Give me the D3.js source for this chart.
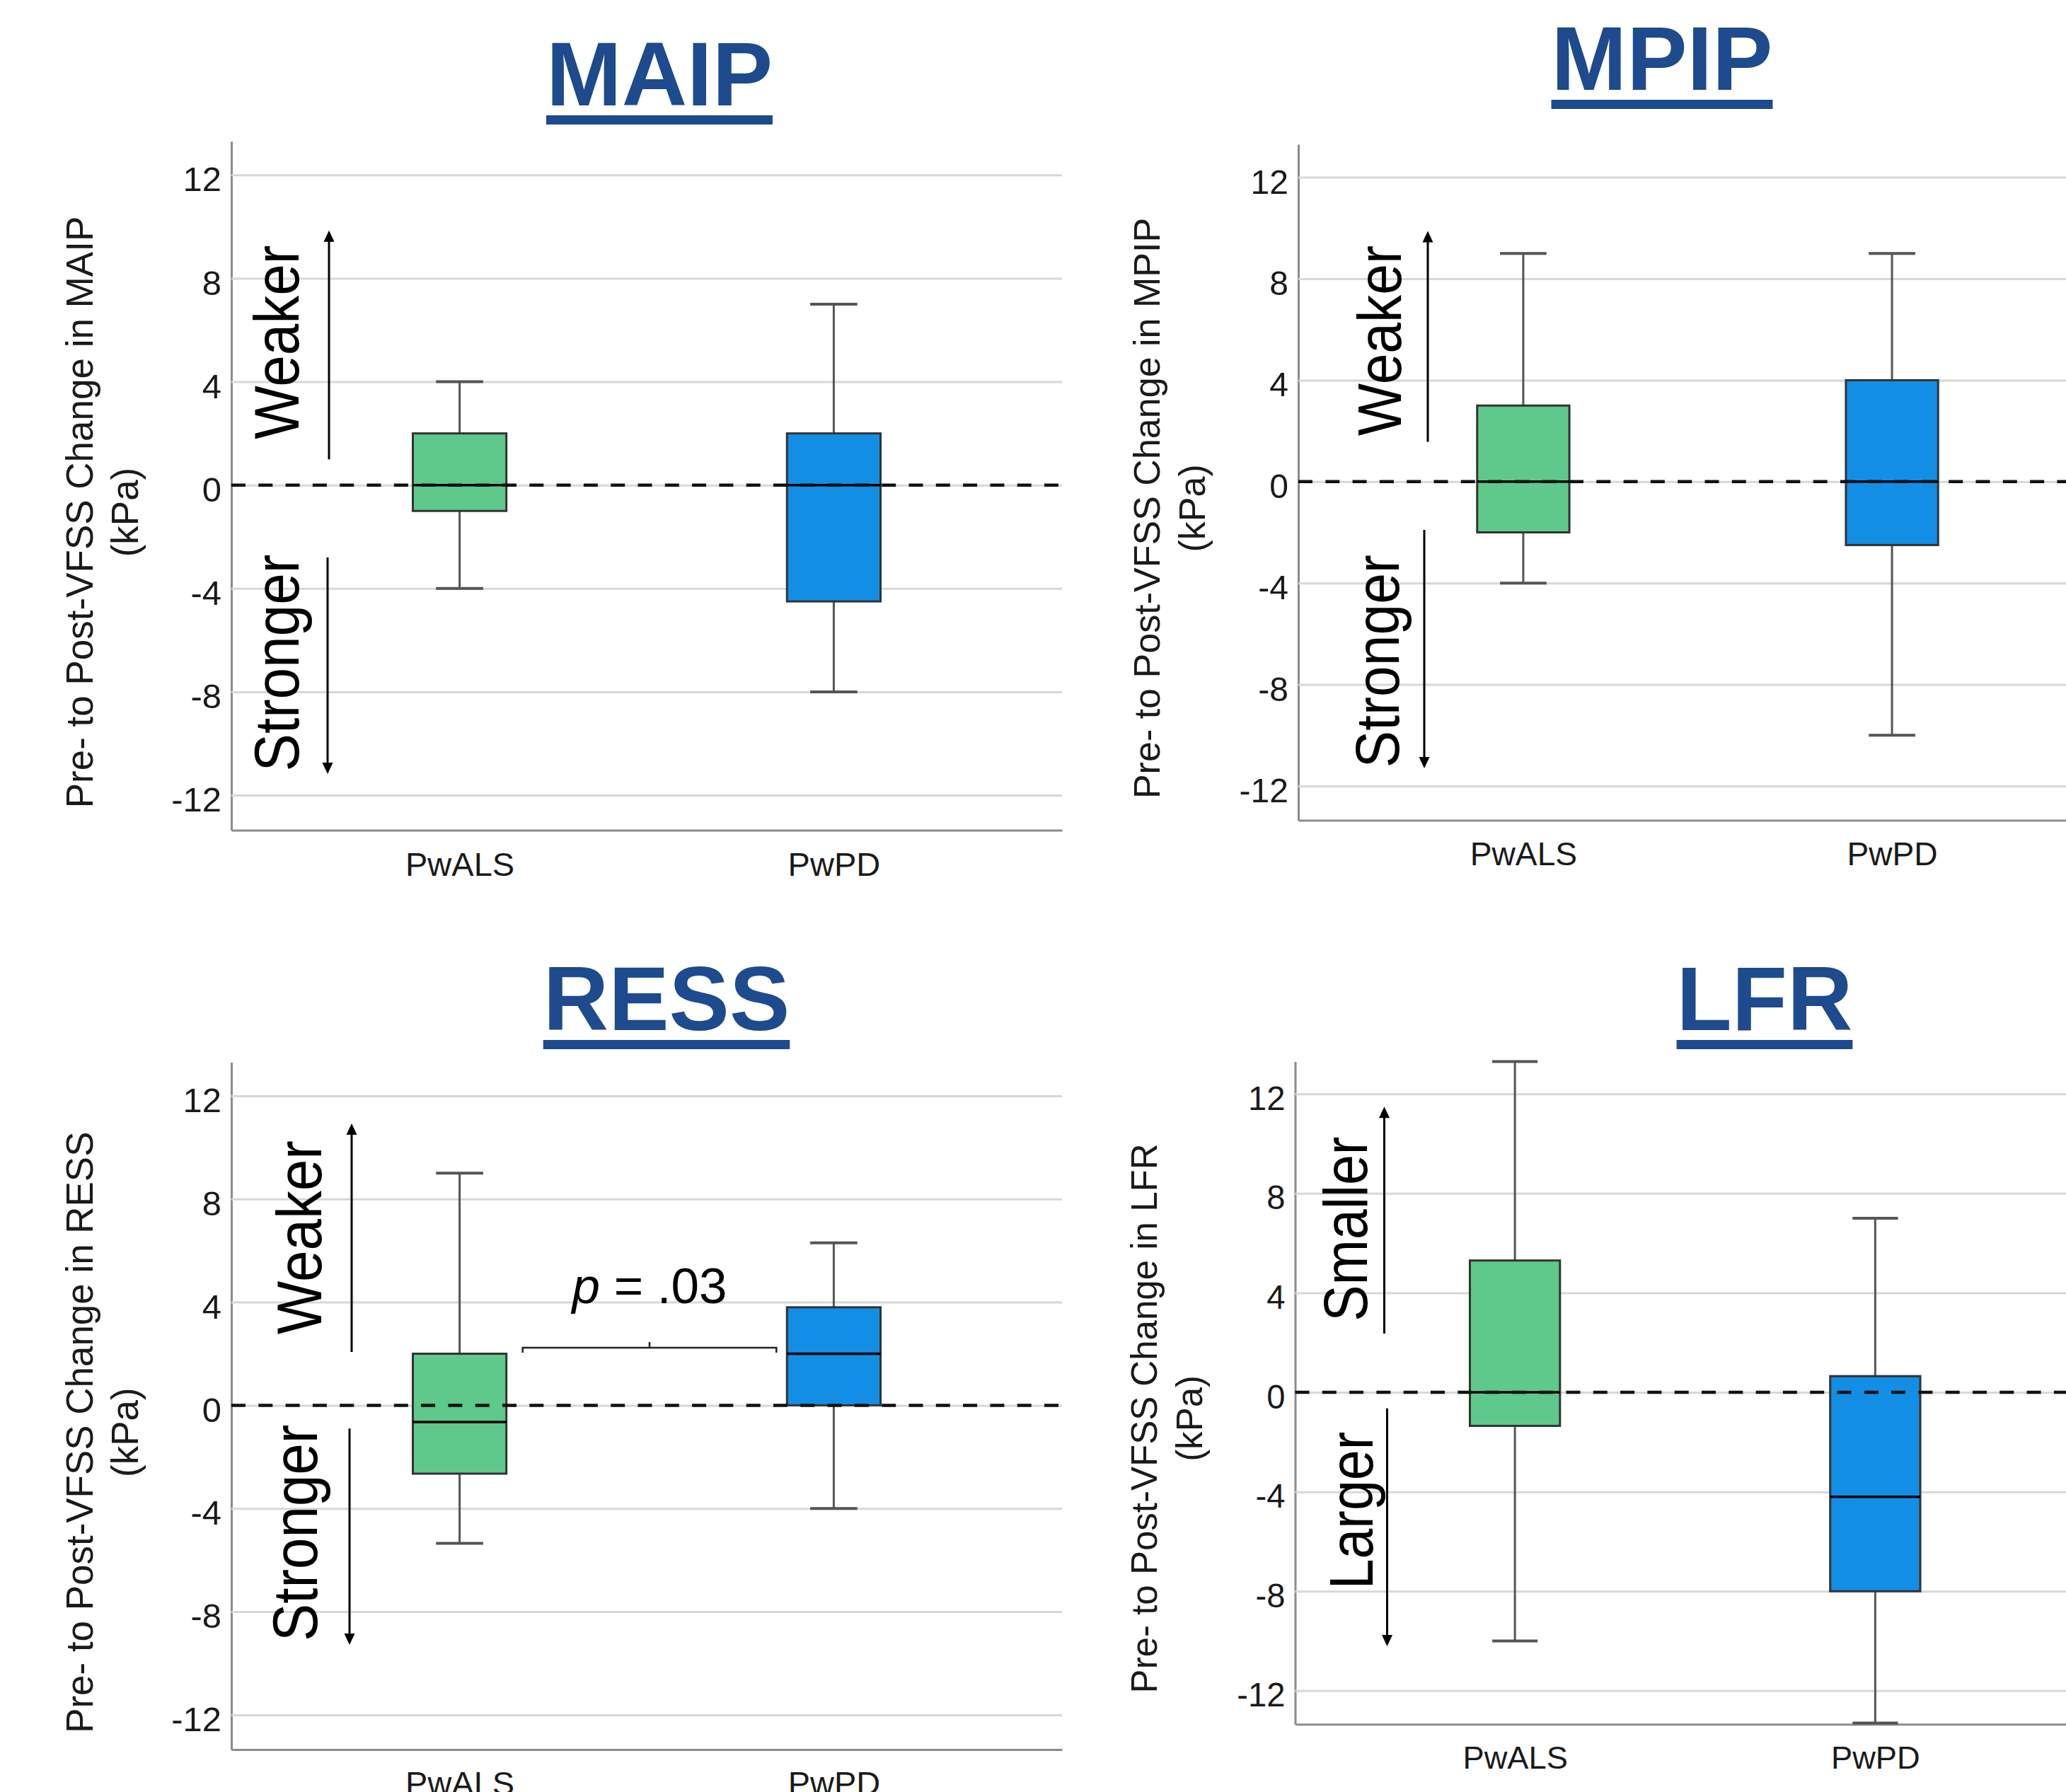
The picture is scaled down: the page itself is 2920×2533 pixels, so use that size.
<!DOCTYPE html>
<html>
<head>
<meta charset="utf-8">
<script src="https://cdn.jsdelivr.net/npm/d3@7"></script>
<style>
  body { margin: 0; background: #fff; }
  svg { display: block; }
</style>
</head>
<body>
<svg id="chart" width="2920" height="2533"></svg>
<script>
const groups = ["PwALS", "PwPD"];
const measures = ["MAIP", "MPIP", "RESS", "LFR"];
const yTicks = [12, 8, 4, 0, -4, -8, -12];

// five-number summaries: [lower whisker, Q1, median, Q3, upper whisker] (kPa)
const maipALS = [-4, -1, 0, 2, 4];
const maipPD = [-8, -4.5, 0, 2, 7];
const mpipALS = [-4, -2, 0, 3, 9];
const mpipPD = [-10, -2.5, 0, 4, 9];
const ressALS = [-5.35, -2.65, -0.65, 2, 9];
const ressPD = [-4, 0, 2, 3.8, 6.3];
const lfrALS = [-10, -1.35, 0, 5.3, 13.3];
const lfrPD = [-13.3, -8, -4.2, 0.65, 7];
const boxStats = [[maipALS, maipPD], [mpipALS, mpipPD], [ressALS, ressPD], [lfrALS, lfrPD]];

const upLabels = ["Weaker", "Weaker", "Weaker", "Smaller"];
const downLabels = ["Stronger", "Stronger", "Stronger", "Larger"];
const pText = ["p", " = .03"];

const groupColors = ["#5ec98a", "#128fe5"];
const titleColor = "#1e4a8e";
const yDomain = [-13.35, 13.3];

// panel geometry in pixels; annotation spots given in data units along y
const layout = [
  { x0: 327, x1: 1501, y0: 1173.4, y1: 199.8, k: 1.0, titleX: 932, titleY: 149,
    arrowUp: [1.0, 9.85], arrowDown: [-2.8, -11.18], arrowDx: [138, 136],
    labelAt: [5.53, -6.88], labelDx: [95, 95] },
  { x0: 1835, x1: 2992, y0: 1159.4, y1: 204, k: 0.982, titleX: 2349, titleY: 127,
    arrowUp: [1.57, 9.88], arrowDown: [-1.9, -11.3], arrowDx: [183, 178],
    labelAt: [5.56, -7.08], labelDx: [145, 142] },
  { x0: 327, x1: 1501, y0: 2473.1, y1: 1501.5, k: 0.999, titleX: 942, titleY: 1456,
    arrowUp: [2.07, 10.93], arrowDown: [-0.9, -9.29], arrowDx: [170, 167],
    labelAt: [6.51, -4.95], labelDx: [127, 121] },
  { x0: 1830.5, x1: 2961, y0: 2437.3, y1: 1500.5, k: 0.963, titleX: 2494, titleY: 1456,
    arrowUp: [2.36, 11.49], arrowDown: [-0.65, -10.21], arrowDx: [126, 130],
    labelAt: [6.57, -4.75], labelDx: [101, 109] }
];

const svg = d3.select("#chart");
svg.append("rect").attr("width", 2920).attr("height", 2533).attr("fill", "#fff");

const font = "'Liberation Sans', Arial, Helvetica, sans-serif";

function arrow(g, x, yFrom, yTo) {
  const dir = yTo < yFrom ? -1 : 1;
  g.append("line")
    .attr("x1", x).attr("x2", x)
    .attr("y1", yFrom).attr("y2", yTo - dir * 12)
    .attr("stroke", "#000").attr("stroke-width", 3);
  g.append("path")
    .attr("d", `M${x},${yTo} L${x - 7.5},${yTo - dir * 16} L${x + 7.5},${yTo - dir * 16} Z`)
    .attr("fill", "#000");
}

function drawPanel(i) {
  const L = layout[i];
  const stats = boxStats[i];
  const g = svg.append("g").attr("class", "panel");

  const y = d3.scaleLinear().domain(yDomain).range([L.y0, L.y1]);
  const x = d3.scalePoint().domain(groups).range([L.x0, L.x1]).padding(0.61);
  const step = x.step();
  const boxW = step * 0.25;
  const capW = step * 0.126;

  // y axis with gridlines
  const yAxis = d3.axisLeft(y)
    .tickValues(yTicks)
    .tickSize(-(L.x1 - L.x0))
    .tickSizeOuter(0)
    .tickPadding(14)
    .tickFormat(d => String(d));

  const ya = g.append("g")
    .attr("transform", `translate(${L.x0},0)`)
    .call(yAxis);
  ya.select(".domain").attr("stroke", "#8c8c8c").attr("stroke-width", 3);
  ya.selectAll(".tick line").attr("stroke", "#d7d7d7").attr("stroke-width", 3);
  ya.selectAll(".tick text")
    .attr("font-family", font)
    .attr("font-size", 49 * L.k)
    .attr("fill", "#1a1a1a")
    .attr("y", 7);

  // x axis
  const xAxis = d3.axisBottom(x).tickSize(0).tickSizeOuter(0).tickPadding(31);
  const xa = g.append("g")
    .attr("transform", `translate(0,${L.y0})`)
    .call(xAxis);
  xa.select(".domain").attr("stroke", "#8c8c8c").attr("stroke-width", 3);
  xa.selectAll(".tick text")
    .attr("font-family", font)
    .attr("font-size", 47 * L.k)
    .attr("fill", "#1a1a1a");

  // boxes
  const boxes = g.selectAll(".box")
    .data(groups.map((name, j) => ({ name, s: stats[j], color: groupColors[j] })))
    .join("g")
    .attr("class", "box");

  boxes.append("line")
    .attr("x1", d => x(d.name)).attr("x2", d => x(d.name))
    .attr("y1", d => y(d.s[0])).attr("y2", d => y(d.s[1]))
    .attr("stroke", "#555").attr("stroke-width", 3);
  boxes.append("line")
    .attr("x1", d => x(d.name)).attr("x2", d => x(d.name))
    .attr("y1", d => y(d.s[3])).attr("y2", d => y(d.s[4]))
    .attr("stroke", "#555").attr("stroke-width", 3);
  boxes.selectAll(".cap")
    .data(d => [d.s[0], d.s[4]].map(v => ({ name: d.name, v })))
    .join("line")
    .attr("class", "cap")
    .attr("x1", d => x(d.name) - capW / 2).attr("x2", d => x(d.name) + capW / 2)
    .attr("y1", d => y(d.v)).attr("y2", d => y(d.v))
    .attr("stroke", "#555").attr("stroke-width", 4);
  boxes.append("rect")
    .attr("x", d => x(d.name) - boxW / 2)
    .attr("width", boxW)
    .attr("y", d => y(d.s[3]))
    .attr("height", d => y(d.s[1]) - y(d.s[3]))
    .attr("fill", d => d.color)
    .attr("stroke", "#333")
    .attr("stroke-width", 3);
  boxes.append("line")
    .attr("x1", d => x(d.name) - boxW / 2).attr("x2", d => x(d.name) + boxW / 2)
    .attr("y1", d => y(d.s[2])).attr("y2", d => y(d.s[2]))
    .attr("stroke", "#000").attr("stroke-width", 3.5);

  // dashed reference at zero
  g.append("line")
    .attr("x1", L.x0).attr("x2", L.x1)
    .attr("y1", y(0)).attr("y2", y(0))
    .attr("stroke", "#111")
    .attr("stroke-width", 4.5)
    .attr("stroke-dasharray", "20 18.3");

  // y axis title
  const yt = g.append("g")
    .attr("font-family", font)
    .attr("font-size", 53 * L.k)
    .attr("fill", "#1a1a1a")
    .attr("text-anchor", "middle");
  yt.append("text")
    .attr("transform", `translate(${L.x0 - 196},${y(-1.05)}) rotate(-90)`)
    .text(`Pre- to Post-VFSS Change in ${measures[i]}`);
  yt.append("text")
    .attr("transform", `translate(${L.x0 - 132},${y(-1.05)}) rotate(-90)`)
    .text("(kPa)");

  // direction labels and arrows
  arrow(g, L.x0 + L.arrowDx[0], y(L.arrowUp[0]), y(L.arrowUp[1]));
  arrow(g, L.x0 + L.arrowDx[1], y(L.arrowDown[0]), y(L.arrowDown[1]));
  [upLabels[i], downLabels[i]].forEach((t, j) => {
    g.append("text")
      .attr("transform", `translate(${L.x0 + L.labelDx[j]},${y(L.labelAt[j])}) scale(1.12,1) rotate(-90)`)
      .attr("text-anchor", "middle")
      .attr("font-family", font)
      .attr("font-size", 80 * L.k)
      .attr("fill", "#000")
      .text(t);
  });

  // panel title with underline
  const title = g.append("text")
    .attr("x", L.titleX)
    .attr("y", L.titleY)
    .attr("text-anchor", "middle")
    .attr("font-family", font)
    .attr("font-weight", "bold")
    .attr("font-size", 128)
    .attr("fill", titleColor)
    .text(measures[i]);
  const tw = title.node().getComputedTextLength();
  g.append("rect")
    .attr("x", L.titleX - tw / 2)
    .attr("y", L.titleY + 14)
    .attr("width", tw)
    .attr("height", 13)
    .attr("fill", titleColor);

  return { x, y, boxW };
}

const scales = layout.map((_, i) => drawPanel(i));

// significance bracket for RESS
{
  const { x, y, boxW } = scales[2];
  const g = svg.append("g");
  const left = x(groups[0]) + boxW / 2 + 23;
  const right = x(groups[1]) - boxW / 2 - 15;
  const mid = (left + right) / 2;
  const by = y(2.23);
  g.append("path")
    .attr("d", `M${left},${by + 7} V${by} H${right} V${by + 7} M${mid},${by} V${by - 8}`)
    .attr("fill", "none")
    .attr("stroke", "#222")
    .attr("stroke-width", 2.5);
  const t = g.append("text")
    .attr("x", mid)
    .attr("y", y(3.97))
    .attr("text-anchor", "middle")
    .attr("font-family", font)
    .attr("font-size", 71)
    .attr("fill", "#000");
  t.append("tspan").attr("font-style", "italic").text(pText[0]);
  t.append("tspan").text(pText[1]);
}
</script>
</body>
</html>
